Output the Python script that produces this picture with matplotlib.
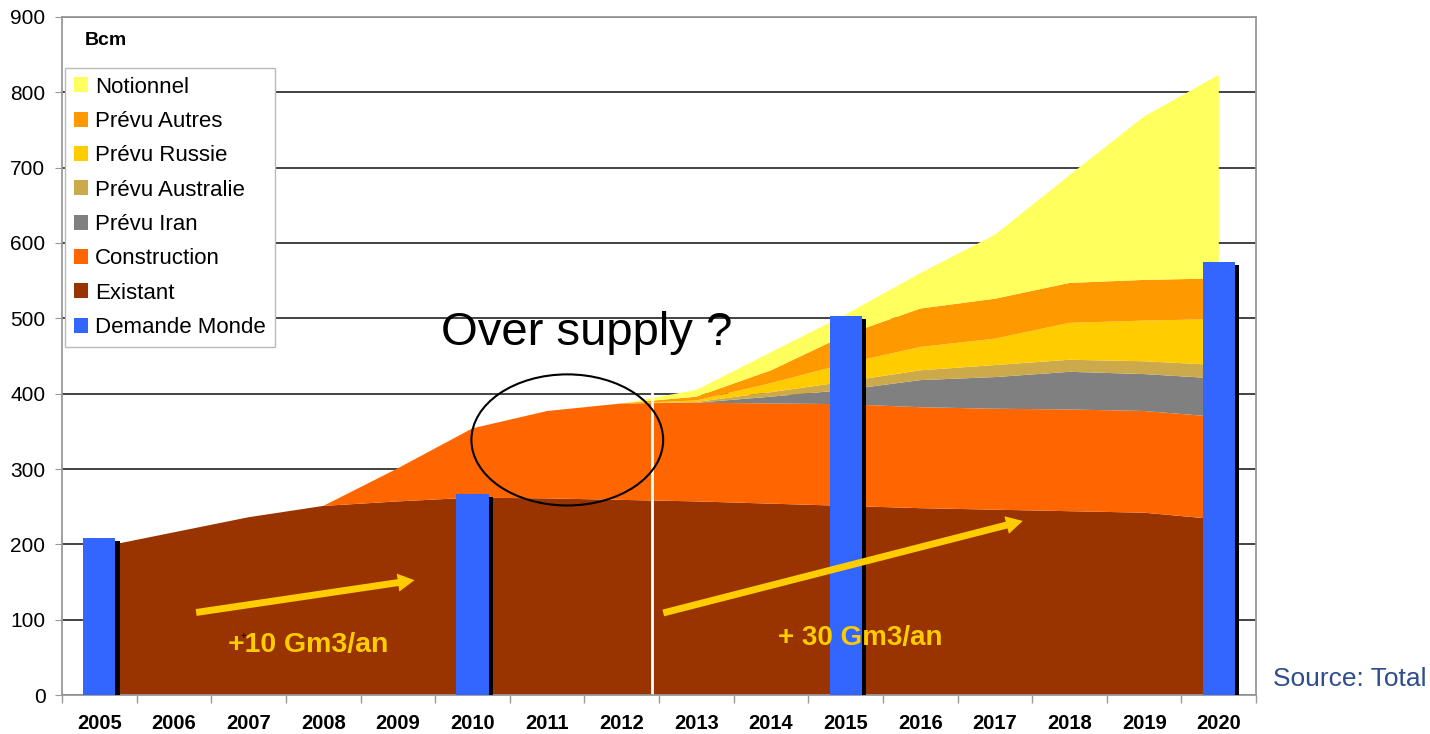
import numpy as np
import matplotlib
matplotlib.use("Agg")
import matplotlib.pyplot as plt
from matplotlib.patches import Ellipse, FancyArrowPatch

plt.rcParams["font.family"] = ["Liberation Sans", "DejaVu Sans"]

# --- data (Bcm) ---
years = list(range(2005, 2021))
existant = [196, 216, 236, 251, 257, 262, 261, 259, 257, 254, 251, 248, 246, 244, 242, 233]
construction = [0, 0, 0, 0, 44, 92, 116, 128, 131, 133, 135, 134, 134, 135, 135, 136]
prevu_iran = [0, 0, 0, 0, 0, 0, 0, 0, 0, 9, 19, 36, 42, 50, 49, 51]
prevu_australie = [0, 0, 0, 0, 0, 0, 0, 0, 1, 6, 11, 13, 16, 16, 17, 18]
prevu_russie = [0, 0, 0, 0, 0, 0, 0, 0, 2, 12, 24, 31, 35, 49, 54, 61]
prevu_autres = [0, 0, 0, 0, 0, 0, 0, 0, 5, 17, 38, 51, 53, 53, 54, 54]
notionnel = [0, 0, 0, 0, 0, 0, 0, 0, 9, 24, 27, 47, 85, 143, 217, 270]

demand_years = [2005, 2010, 2015, 2020]
demand = [208, 267, 503, 575]

layers = [existant, construction, prevu_iran, prevu_australie,
          prevu_russie, prevu_autres, notionnel]
labels = ["Existant", "Construction", "Prévu Iran", "Prévu Australie",
          "Prévu Russie", "Prévu Autres", "Notionnel"]
colors = ["#993300", "#FF6600", "#808080", "#CCAA4C",
          "#FFCC00", "#FF9900", "#FFFF5E"]

fig = plt.figure(figsize=(14.3, 7.34), dpi=100)
ax = fig.add_axes([0.0434, 0.0531, 0.8350, 0.9238])

polys = ax.stackplot(years, *layers, colors=colors, labels=labels,
                     linewidth=0, zorder=1)

# white separator between history and forecast
ax.vlines(2012.41, 0, 405, color="white", lw=2, zorder=1.5)

# demand bars with a black drop shadow
dx = np.array(demand_years, dtype=float)
ax.bar(dx + 0.055, np.array(demand) - 4, width=0.43, color="black", zorder=2.9)
bars = ax.bar(dx, demand, width=0.43, color="#3366FF", zorder=3,
              label="Demande Monde")

# axes styling
ax.set_xlim(2004.5, 2020.5)
ax.set_ylim(0, 900)
ax.set_yticks(range(0, 901, 100))
ax.set_xticks(years)
ax.set_xticks(np.arange(2004.5, 2021, 1), minor=True)
ax.tick_params(axis="x", which="major", length=0, pad=14, labelsize=14.5)
ax.tick_params(axis="x", which="minor", length=6, color="#999999", width=1)
ax.tick_params(axis="y", length=5, color="#999999", labelsize=15, pad=7)
for lab in ax.get_xticklabels():
    lab.set_fontweight("bold")
ax.yaxis.grid(True, color="#222222", lw=1.2)
ax.set_axisbelow(True)
for sp in ax.spines.values():
    sp.set_color("#999999")
    sp.set_linewidth(1.3)

ax.text(0.019, 0.966, "Bcm", transform=ax.transAxes, fontsize=14,
        fontweight="bold", va="center", ha="left")

# annotations
ax.text(2009.58, 465, "Over supply ?", fontsize=34, va="baseline",
        ha="left", zorder=5)
ax.add_patch(Ellipse((2011.27, 338.6), 2.57, 174, fill=False,
                     edgecolor="black", lw=1.5, zorder=4))

arrow_style = "simple,head_width=13,head_length=12,tail_width=5"
for (x0, y0), (x1, y1) in [((2006.26, 109), (2009.26, 153)),
                           ((2012.52, 108), (2017.41, 232))]:
    ax.add_patch(FancyArrowPatch((x0, y0), (x1, y1), arrowstyle=arrow_style,
                                 color="#FFCC00", lw=0, zorder=4))

ax.text(2006.73, 57, "+10 Gm3/an", color="#FFCC00", fontsize=20.5,
        fontweight="bold", va="baseline", ha="left", zorder=5)
ax.text(2006.93, 79, "+", color="black", fontsize=7, va="center",
        ha="center", zorder=6)
ax.text(2014.10, 66, "+ 30 Gm3/an", color="#FFCC00", fontsize=20,
        fontweight="bold", va="baseline", ha="left", zorder=5)

# legend: top of stack first, demand bars last
handles = list(polys[::-1]) + [bars]
leg_labels = labels[::-1] + ["Demande Monde"]
leg = ax.legend(handles, leg_labels, loc="upper left",
                bbox_to_anchor=(0.0025, 0.925), borderaxespad=0,
                fontsize=16, handlelength=0.65, handleheight=0.65,
                handletextpad=0.3, labelspacing=0.6, borderpad=0.4,
                fancybox=False, framealpha=1, edgecolor="#BBBBBB")
leg.set_zorder(10)

fig.text(0.890, 0.0654, "Source: Total", color="#2F4D8C", fontsize=19,
         va="baseline", ha="left")

fig.savefig("out.png", dpi=100)
